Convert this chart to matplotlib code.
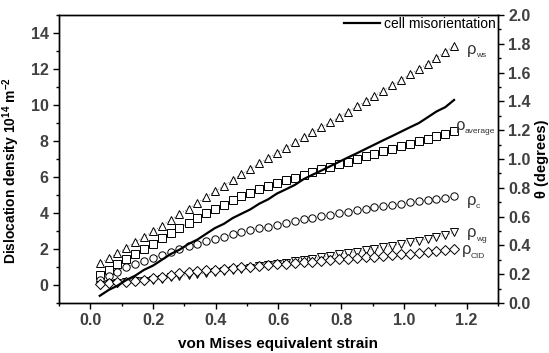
import matplotlib.pyplot as plt

plt.rcParams['font.family'] = ['Liberation Sans', 'DejaVu Sans']
plt.rcParams['mathtext.fontset'] = 'custom'
plt.rcParams['mathtext.rm'] = 'Liberation Sans'
plt.rcParams['mathtext.bf'] = 'Liberation Sans:bold'

# Data
strain = [0.030, 0.058, 0.086, 0.115, 0.143, 0.171, 0.200, 0.228, 0.256, 0.284,
          0.313, 0.341, 0.369, 0.397, 0.426, 0.454, 0.482, 0.510, 0.539, 0.567,
          0.595, 0.624, 0.652, 0.680, 0.708, 0.737, 0.765, 0.793, 0.821, 0.850,
          0.878, 0.906, 0.934, 0.963, 0.991, 1.019, 1.048, 1.076, 1.104, 1.132, 1.160]

rho_ws = [1.20, 1.48, 1.78, 2.08, 2.38, 2.68, 2.98, 3.30, 3.62, 3.93,
          4.25, 4.56, 4.88, 5.20, 5.52, 5.84, 6.15, 6.46, 6.76, 7.05,
          7.34, 7.63, 7.92, 8.20, 8.48, 8.77, 9.05, 9.34, 9.62, 9.92,
          10.21, 10.50, 10.80, 11.10, 11.40, 11.70, 12.00, 12.30, 12.62, 12.95, 13.30]

rho_average = [0.55, 0.85, 1.15, 1.45, 1.75, 2.02, 2.30, 2.60, 2.90, 3.18,
               3.45, 3.72, 3.98, 4.22, 4.46, 4.70, 4.92, 5.13, 5.33, 5.50,
               5.66, 5.82, 5.97, 6.12, 6.27, 6.42, 6.57, 6.72, 6.86, 7.00,
               7.14, 7.28, 7.42, 7.56, 7.70, 7.84, 7.98, 8.12, 8.26, 8.40, 8.55]

rho_c = [0.28, 0.50, 0.75, 0.98, 1.17, 1.35, 1.52, 1.68, 1.84, 2.00,
         2.15, 2.29, 2.43, 2.56, 2.69, 2.81, 2.93, 3.04, 3.15, 3.25,
         3.35, 3.45, 3.55, 3.64, 3.73, 3.82, 3.91, 3.99, 4.07, 4.15,
         4.23, 4.31, 4.38, 4.45, 4.52, 4.59, 4.66, 4.73, 4.80, 4.86, 4.92]

rho_wg = [0.00, 0.05, 0.10, 0.15, 0.20, 0.25, 0.30, 0.36, 0.42, 0.48,
          0.54, 0.60, 0.66, 0.72, 0.78, 0.84, 0.90, 0.96, 1.03, 1.10,
          1.17, 1.24, 1.31, 1.38, 1.46, 1.54, 1.62, 1.70, 1.78, 1.86,
          1.94, 2.02, 2.10, 2.19, 2.28, 2.37, 2.46, 2.56, 2.66, 2.78, 2.92]

rho_cid = [0.08, 0.12, 0.15, 0.18, 0.22, 0.28, 0.38, 0.47, 0.56, 0.64,
           0.71, 0.76, 0.81, 0.86, 0.90, 0.94, 0.98, 1.02, 1.06, 1.10,
           1.14, 1.18, 1.22, 1.26, 1.30, 1.34, 1.38, 1.42, 1.46, 1.50,
           1.54, 1.58, 1.62, 1.66, 1.70, 1.74, 1.78, 1.83, 1.88, 1.93, 1.98]

misorientation = [0.05, 0.09, 0.12, 0.16, 0.19, 0.23, 0.26, 0.30, 0.34, 0.37,
                  0.41, 0.44, 0.48, 0.52, 0.55, 0.59, 0.62, 0.65, 0.69, 0.72,
                  0.76, 0.79, 0.82, 0.86, 0.89, 0.92, 0.95, 0.98, 1.01, 1.04,
                  1.07, 1.10, 1.13, 1.16, 1.19, 1.22, 1.25, 1.29, 1.33, 1.36, 1.41]

series = [(rho_ws, '^'), (rho_average, 's'), (rho_c, 'o'), (rho_wg, 'v'), (rho_cid, 'D')]
label_subs = ['ws', 'average', 'c', 'wg', 'CID']
label_x = [1.20, 1.165, 1.20, 1.20, 1.185]
label_y = [13.1, 8.85, 4.7, 2.9, 1.95]

fig = plt.figure(figsize=(5.49, 3.53), dpi=100)
ax = fig.add_axes([0.1075, 0.1416, 0.7995, 0.8159])

for vals, m in series:
    ms = 4.6 if m == 'D' else 5.3
    ax.plot(strain, vals, linestyle=':', color='0.45', linewidth=0.7,
            marker=m, markersize=ms, markerfacecolor='white',
            markeredgecolor='black', markeredgewidth=0.7)

for sub, x, y in zip(label_subs, label_x, label_y):
    ax.text(x, y, 'ρ', fontsize=12, ha='left', va='center', color='0.2')
    ax.annotate(sub, xy=(x, y), xytext=(6.5, -4.5), textcoords='offset points',
                fontsize=6, ha='left', va='center', color='0.2')

ax.set_xlim(-0.1, 1.3)
ax.set_ylim(-1, 15)
ax.set_xticks([0.0, 0.2, 0.4, 0.6, 0.8, 1.0, 1.2])
ax.set_xticks([-0.1, 0.1, 0.3, 0.5, 0.7, 0.9, 1.1, 1.3], minor=True)
ax.set_yticks(range(0, 15, 2))
ax.set_yticks(range(-1, 16, 2), minor=True)
ax.tick_params(axis='both', which='major', length=4, width=1, labelsize=11.5)
ax.tick_params(axis='both', which='minor', length=2.5, width=1)
for lab in ax.get_xticklabels() + ax.get_yticklabels():
    lab.set_fontweight('bold')
    lab.set_color('0.25')
ax.set_xlabel('von Mises equivalent strain', fontsize=11, fontweight='bold', labelpad=6)
ax.set_ylabel(r'Dislocation density 10$^{\mathbf{14}}$ m$^{\mathbf{-2}}$',
              fontsize=10, fontweight='bold')
ax.yaxis.set_label_coords(-0.084, 0.46)

ax2 = ax.twinx()
ax2.plot(strain, misorientation, color='black', linewidth=1.6, label='cell misorientation')
ax2.set_ylim(0, 2.0)
ax2.set_yticks([0.0, 0.2, 0.4, 0.6, 0.8, 1.0, 1.2, 1.4, 1.6, 1.8, 2.0])
ax2.set_yticks([0.1, 0.3, 0.5, 0.7, 0.9, 1.1, 1.3, 1.5, 1.7, 1.9], minor=True)
ax2.tick_params(axis='y', which='major', length=4, width=1, labelsize=11.5)
ax2.tick_params(axis='y', which='minor', length=2.5, width=1)
for lab in ax2.get_yticklabels():
    lab.set_fontweight('bold')
    lab.set_color('0.25')
ax2.set_ylabel('θ (degrees)', fontsize=10.5, fontweight='bold', labelpad=3)
ax2.legend(loc='upper right', frameon=False, fontsize=10, handlelength=2.6,
           handletextpad=0.3, borderaxespad=0.05, borderpad=0.1)

for a in (ax, ax2):
    for s in a.spines.values():
        s.set_linewidth(1.0)

# arrow pointing to the right-hand axis
ax.annotate('', xy=(1.305, 9.72), xytext=(1.145, 9.72),
            arrowprops=dict(arrowstyle='-|>', color='black', lw=1.0,
                            mutation_scale=8, shrinkA=0, shrinkB=0))

fig.savefig('out.png', dpi=100)
